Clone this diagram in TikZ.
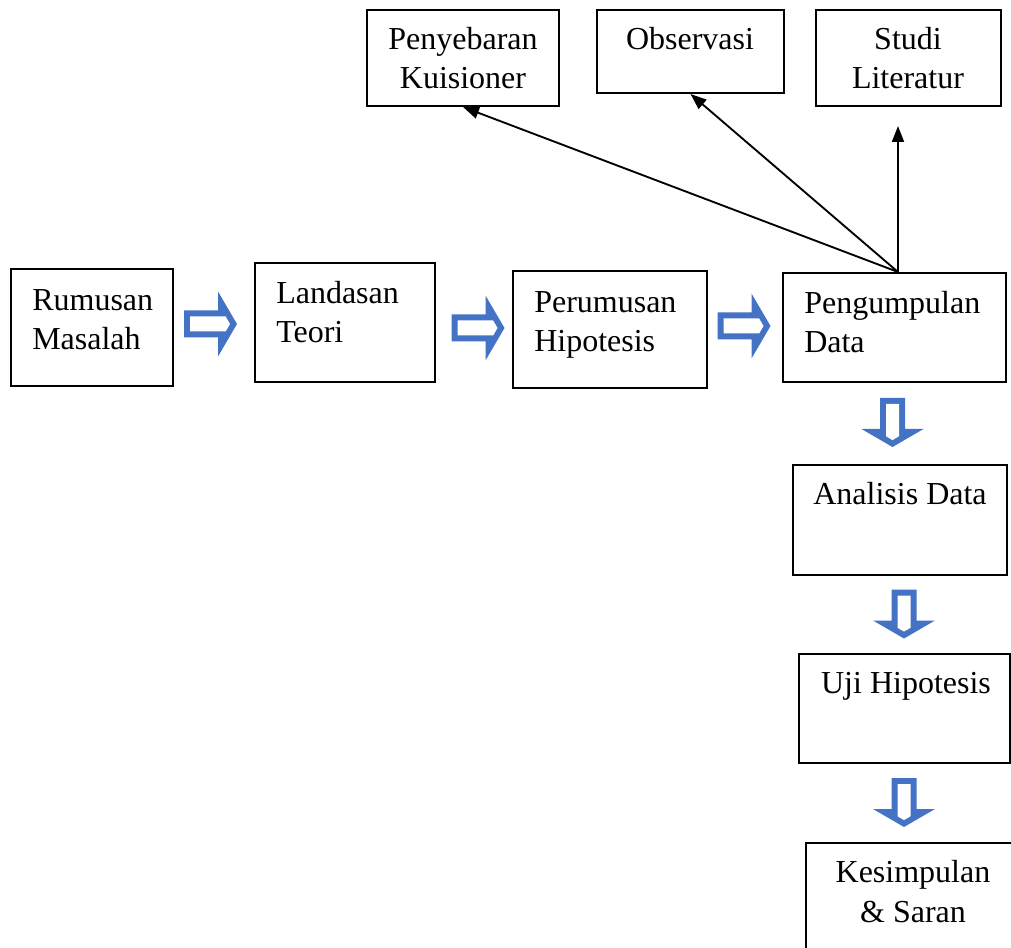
\documentclass[tikz,border=0pt]{standalone}
\usepackage{fontspec}
\setmainfont{Liberation Serif}
\usetikzlibrary{arrows.meta,fit}
\definecolor{arrblue}{HTML}{4472C4}
\begin{document}
\begin{tikzpicture}[x=0.75pt,y=-0.75pt,
  box/.style={draw, line width=1.5pt, inner sep=0pt},
  lbl/.style={font=\fontsize{24}{29.5}\selectfont, inner sep=0pt},
  conn/.style={line width=1.4pt, -{Triangle[length=12pt,width=9pt]}},
  rarr/.pic={
    \fill[arrblue] (-26.5,-13.5) -- (7.5,-13.5) -- (7.5,-32.5) -- (26.5,0) -- (7.5,32.5) -- (7.5,13.5) -- (-26.5,13.5) -- cycle;
    \fill[white] (-20.5,-7.5) -- (15.2,-7.5) -- (19.5,0) -- (15.2,7.5) -- (-20.5,7.5) -- cycle;},
  darr/.pic={
    \fill[arrblue] (-12.5,-24.5) -- (-12.5,6.5) -- (-31,6.5) -- (0,24.5) -- (31,6.5) -- (12.5,6.5) -- (12.5,-24.5) -- cycle;
    \fill[white] (-6.5,-18.5) -- (-6.5,13.8) -- (0,17.6) -- (6.5,13.8) -- (6.5,-18.5) -- cycle;}]
\useasboundingbox (0,0) rectangle (1011,948);
\clip (0,0) rectangle (1011,948);
% boxes
\node[box, fit={(367,10) (559,106)}] (pk) {};
\node[box, fit={(597,10) (784,93)}] (ob) {};
\node[box, fit={(816,10) (1001,106)}] (sl) {};
\node[box, fit={(11,269) (173,386)}] (rm) {};
\node[box, fit={(255,263) (435,382)}] (lt) {};
\node[box, fit={(513,271) (707,388)}] (ph) {};
\node[box, fit={(783,273) (1006,382)}] (pd) {};
\node[box, fit={(793,465) (1007,575)}] (ad) {};
\node[box, fit={(799,654) (1010,763)}] (uh) {};
\node[box, fit={(806,843) (1016,956)}] (ks) {};
% labels (base anchor = baseline of the last line)
\node[lbl, anchor=base, align=center] (pkt) at (463,89) {Penyebaran\\Kuisioner};
\node[lbl, anchor=base, align=center] (obt) at (690,50) {Observasi};
\node[lbl, anchor=base, align=center] (slt) at (908,89) {Studi\\Literatur};
\node[lbl, anchor=base west, align=left] (rmt) at (32,350) {Rumusan\\Masalah};
\node[lbl, anchor=base west, align=left] (ltt) at (276,343) {Landasan\\Teori};
\node[lbl, anchor=base west, align=left] (pht) at (534,352) {Perumusan\\Hipotesis};
\node[lbl, anchor=base west, align=left] (pdt) at (804,353) {Pengumpulan\\Data};
\node[lbl, anchor=base, align=center] (adt) at (900,505) {Analisis Data};
\node[lbl, anchor=base, align=center] (uht) at (906,693) {Uji Hipotesis};
\node[lbl, anchor=base, align=center] (kst) at (913,922) {Kesimpulan\\\& Saran};
% block arrows
\pic at (210.5,324) {rarr};
\pic at (478,328) {rarr};
\pic at (744,326) {rarr};
\pic at (892.5,422.5) {darr};
\pic at (904,614) {darr};
\pic at (904,802.5) {darr};
% connectors
\coordinate (src) at (898,272);
\coordinate (slend) at (898,126);
\draw[conn] (src) -- (pk.south);
\draw[conn] (src) -- (ob.south);
\draw[conn] (src) -- (slend);
\end{tikzpicture}
\end{document}
